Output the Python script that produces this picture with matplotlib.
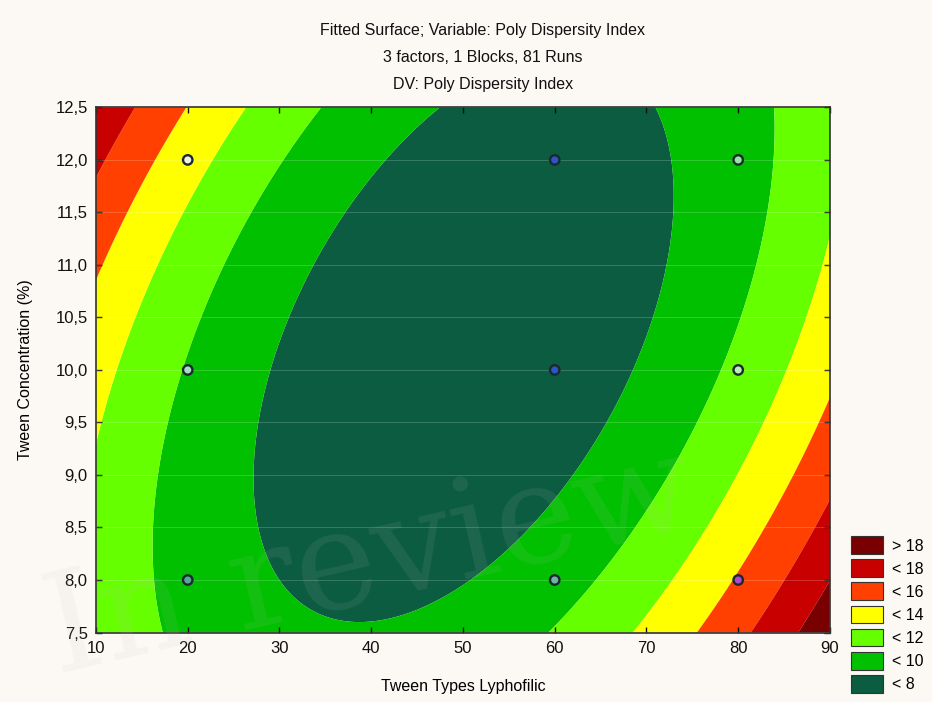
import numpy as np
import matplotlib
matplotlib.use("Agg")
import matplotlib.pyplot as plt
from matplotlib.patches import Patch

plt.rcParams['font.family'] = ['Liberation Sans', 'DejaVu Sans']

# ---------------- data ----------------
title_lines = ["Fitted Surface; Variable: Poly Dispersity Index",
               "3 factors, 1 Blocks, 81 Runs",
               "DV: Poly Dispersity Index"]
x_label = "Tween Types Lyphofilic"
y_label = "Tween Concentration (%)"
watermark = "In review"

x_ticks = [10, 20, 30, 40, 50, 60, 70, 80, 90]
y_ticks = [7.5, 8.0, 8.5, 9.0, 9.5, 10.0, 10.5, 11.0, 11.5, 12.0, 12.5]
y_tick_labels = ["7,5", "8,0", "8,5", "9,0", "9,5", "10,0", "10,5", "11,0", "11,5", "12,0", "12,5"]

# contour band edges and legend
levels = [8, 10, 12, 14, 16, 18]
legend_labels = ["> 18", "< 18", "< 16", "< 14", "< 12", "< 10", "< 8"]
band_colors = ["#0b5c40", "#00c000", "#66ff00", "#ffff00", "#ff4000", "#c80000", "#780000"]

# points on the contour lines (x, y) for each level
lvl8_x = [47.1, 71.3, 73.3, 70.3, 68.9, 66.0, 62.4, 58.0, 51.9, 40.2, 29.0, 27.2, 30.2, 40.8, 44.0]
lvl8_y = [12.5, 12.5, 11.5, 10.4, 10.06, 9.59, 9.05, 8.60, 8.19, 7.62, 8.16, 9.11, 10.38, 11.94, 12.25]
lvl10_x = [34.6, 83.65, 17.5, 59.85, 21.0, 17.2, 79.8, 75.1, 70.7, 65.7]
lvl10_y = [12.5, 12.5, 7.5, 7.5, 10.38, 8.95, 10.38, 9.33, 8.73, 8.16]
lvl12_x = [26.2, 68.6, 10.0, 90.0, 86.7]
lvl12_y = [12.5, 7.5, 9.56, 11.24, 10.38]
lvl14_x = [20.06, 75.3, 10.0, 90.0]
lvl14_y = [12.5, 7.5, 10.87, 9.70]
lvl16_x = [14.6, 81.3, 10.0, 90.0]
lvl16_y = [12.5, 7.5, 11.84, 8.76]
lvl18_x = [87.8, 90.0]
lvl18_y = [7.5, 8.2]

# design points
pts_x = [20, 20, 20, 60, 60, 60, 80, 80, 80]
pts_y = [12, 10, 8, 12, 10, 8, 12, 10, 8]
pts_face = ["#f4f0e4", "#a8dcc4", "#58a898", "#2858c8", "#2858c8", "#70b4a4",
            "#98e4a8", "#b8f0b8", "#b048c8"]

# ---------------- fitted quadratic surface through the read contour points ----------------
bx = np.array(lvl8_x + lvl10_x + lvl12_x + lvl14_x + lvl16_x + lvl18_x, float)
by = np.array(lvl8_y + lvl10_y + lvl12_y + lvl14_y + lvl16_y + lvl18_y, float)
bz = np.array([8] * len(lvl8_x) + [10] * len(lvl10_x) + [12] * len(lvl12_x) +
              [14] * len(lvl14_x) + [16] * len(lvl16_x) + [18] * len(lvl18_x), float)


def design(x, y):
    u = (x - 50.0) / 40.0
    v = (y - 10.0) / 2.5
    return np.stack([np.ones_like(u), u, v, u * u, v * v, u * v], axis=-1)


coef, *_ = np.linalg.lstsq(design(bx, by), bz, rcond=None)

gx = np.linspace(x_ticks[0], x_ticks[-1], 400)
gy = np.linspace(y_ticks[0], y_ticks[-1], 400)
GX, GY = np.meshgrid(gx, gy)
GZ = design(GX, GY) @ coef

# ---------------- figure ----------------
bg = "#fcf8f4"
fig = plt.figure(figsize=(9.32, 7.02), dpi=100, facecolor=bg)
ax = fig.add_axes([0.103, 0.099, 0.7875, 0.748])
ax.set_facecolor(bg)

bounds = [-1e3] + levels + [1e3]
ax.contourf(GX, GY, GZ, levels=bounds, colors=band_colors, antialiased=True)

# faint grid lines
for yv in y_ticks[1:-1]:
    ax.axhline(yv, color="white", lw=0.6, alpha=0.22, zorder=2)

ax.scatter(pts_x, pts_y, s=46, c=pts_face, edgecolors="#1c2830", linewidths=1.7, zorder=5)

ax.set_xlim(x_ticks[0], x_ticks[-1])
ax.set_ylim(y_ticks[0], y_ticks[-1])
ax.set_xticks(x_ticks)
ax.set_xticklabels([str(t) for t in x_ticks])
ax.set_yticks(y_ticks)
ax.set_yticklabels(y_tick_labels)
ax.tick_params(direction="in", length=4, width=1, top=True, right=True,
               labelsize=12, colors="#111111", pad=6)
for s in ax.spines.values():
    s.set_color("#333333")
    s.set_linewidth(1.2)

ax.set_xlabel(x_label, fontsize=11.5, labelpad=17)
ax.set_ylabel(y_label, fontsize=11.5, labelpad=16)

for i, line in enumerate(title_lines):
    fig.text(0.518, 1 - (31 + 27 * i) / 702, line, ha="center", va="center", fontsize=11.5, color="#111111")

handles = [Patch(facecolor=c, edgecolor="#333333", linewidth=0.8) for c in band_colors[::-1]]
fig.legend(handles, legend_labels, loc="upper left", bbox_to_anchor=(0.906, 0.245),
           frameon=False, fontsize=11.5, handlelength=2.0, handleheight=1.35,
           labelspacing=0.32, handletextpad=0.55, borderaxespad=0)

# faint watermark
fig.text(0.035, 0.0, watermark, rotation=13, fontsize=100, color="#c8c0bc",
         alpha=0.10, family="DejaVu Serif", ha="left", va="bottom", zorder=20)

fig.savefig("out.png", dpi=100, facecolor=bg)
